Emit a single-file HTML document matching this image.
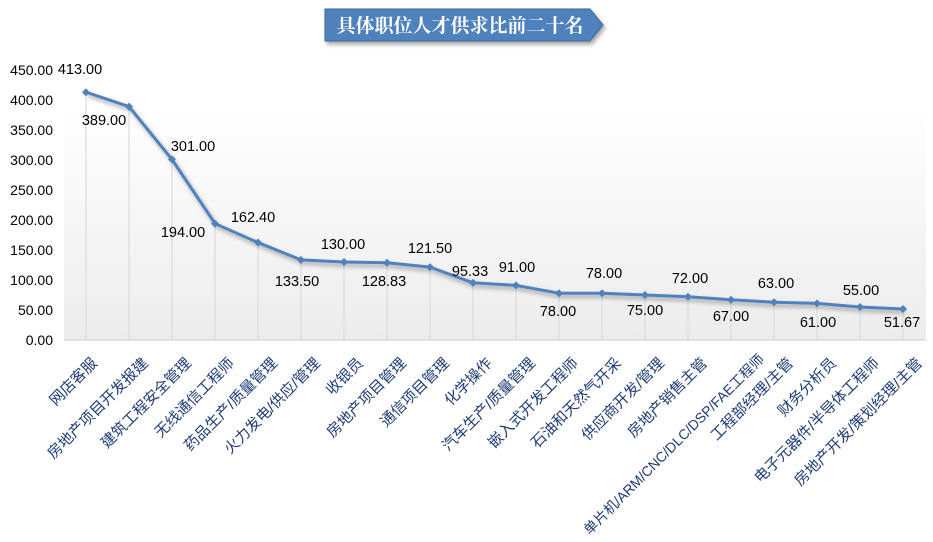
<!DOCTYPE html>
<html><head><meta charset="utf-8"><style>
body{margin:0;background:#fff;width:933px;height:542px;overflow:hidden}
svg{display:block}
text{font-family:"Liberation Sans","Noto Sans CJK SC",sans-serif}
</style></head><body>
<svg width="933" height="542" viewBox="0 0 933 542">
<defs>
<linearGradient id="bg" x1="0" y1="0" x2="0" y2="1">
<stop offset="0" stop-color="#ffffff"/><stop offset="1" stop-color="#ececec"/>
</linearGradient>
<filter id="sh" x="-10%" y="-20%" width="130%" height="160%"><feDropShadow dx="2" dy="3" stdDeviation="2" flood-color="#000" flood-opacity="0.35"/></filter>
</defs>
<rect x="64" y="105" width="862" height="235" fill="url(#bg)"/>
<line x1="64" y1="340" x2="926" y2="340" stroke="#d0d0d0" stroke-width="1"/>
<g id="drop" stroke="#d6d6d6" stroke-width="1"></g>
<polygon points="325,9 590,9 603,25 590,41 325,41" fill="#4f81bd" stroke="#3a6699" stroke-width="1" filter="url(#sh)"/>
<text x="460" y="32" text-anchor="middle" fill="#fff" font-size="19" font-weight="bold" style="font-family:'Noto Serif CJK SC','Noto Sans CJK SC',serif">具体职位人才供求比前二十名</text>
<g font-size="14" fill="#000" text-anchor="end" id="yax"></g>
<polyline id="ln" fill="none" stroke="#4f81bd" stroke-width="3" stroke-linejoin="round" filter="url(#sh)"/>
<g id="mk" fill="#4f81bd"></g>
<g id="dl" font-size="14.5" fill="#000" text-anchor="middle"></g>
<g id="xl" font-size="15" fill="#1f3c78" text-anchor="end"></g>
</svg>
<script>
var v=[413,389,301,194,162.4,133.5,130,128.83,121.5,95.33,91,78,78,75,72,67,63,61,55,51.67];
var n=["网店客服","房地产项目开发报建","建筑工程安全管理","无线通信工程师","药品生产/质量管理","火力发电/供应/管理","收银员","房地产项目管理","通信项目管理","化学操作","汽车生产/质量管理","嵌入式开发工程师","石油和天然气开采","供应商开发/管理","房地产销售主管","单片机/ARM/CNC/DLC/DSP/FAE工程师","工程部经理/主管","财务分析员","电子元器件/半导体工程师","房地产开发/策划经理/主管"];
var L=[[80,69],[104,120],[193,146],[183,232],[253,217],[297,281],[343,244],[384,281],[430,248],[470,271],[517,267],[558,311],[604,273],[645,310],[690,278],[731,316],[776,283],[818,322],[861,290],[902,322]];
var ns="http://www.w3.org/2000/svg";
function el(t,a,p,tx){var e=document.createElementNS(ns,t);for(var k in a)e.setAttribute(k,a[k]);if(tx!=null)e.textContent=tx;document.getElementById(p).appendChild(e);}
for(var i=0;i<=9;i++){el("text",{x:53,y:340-i*30+5},"yax",(i*50).toFixed(2));}
var pts=[];
for(var i=0;i<20;i++){var x=86+i*43,y=340-v[i]*0.6;pts.push(x+","+y);
el("line",{x1:x,y1:y,x2:x,y2:340},"drop");
el("polygon",{points:(x-4)+","+y+" "+x+","+(y-4)+" "+(x+4)+","+y+" "+x+","+(y+4)},"mk");
el("text",{x:L[i][0],y:L[i][1]+5},"dl",v[i].toFixed(2));
var ax=x+20,ay=364,ls=null;
if(i==0){ax=x+12;}
if(i==15){ax=x+34;ay=360;}
var a={x:ax,y:ay,transform:"rotate(-45 "+ax+" "+ay+")"};
if(i==15)a["font-size"]="14";
el("text",a,"xl",n[i]);}
document.getElementById("ln").setAttribute("points",pts.join(" "));
</script>
</body></html>
